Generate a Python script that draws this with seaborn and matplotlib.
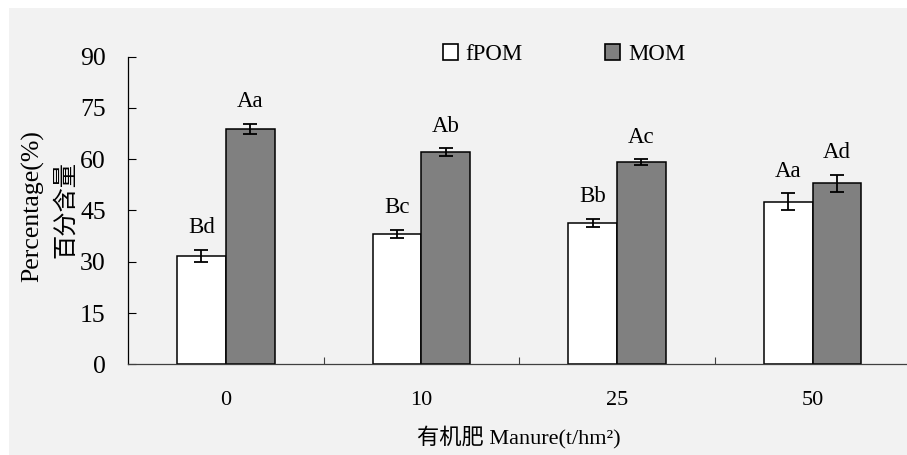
import matplotlib
matplotlib.use("Agg")
import matplotlib.pyplot as plt
from matplotlib.patches import Rectangle, Patch
from matplotlib.ticker import FixedLocator
import pandas as pd
import seaborn as sns

# Organic matter fractions under different manure application rates
manure_rates = ["0", "10", "25", "50"]
fractions = ["fPOM", "MOM"]
fpom_pct = [31.6, 38.2, 41.4, 47.5]
mom_pct = [68.8, 62.1, 59.1, 52.9]
fpom_err = [1.8, 1.1, 1.1, 2.5]
mom_err = [1.5, 1.1, 0.9, 2.6]
fpom_letters = ["Bd", "Bc", "Bb", "Aa"]
mom_letters = ["Aa", "Ab", "Ac", "Ad"]
y_ticks = [0, 15, 30, 45, 60, 75, 90]

sns.set_style("ticks")
plt.rcParams["font.family"] = ["Liberation Serif", "Noto Sans CJK SC"]
plt.rcParams["axes.unicode_minus"] = False
for key in ["text.color", "axes.labelcolor", "xtick.color", "ytick.color",
            "xtick.labelcolor", "ytick.labelcolor"]:
    plt.rcParams[key] = "black"

df = pd.DataFrame({
    "Manure": manure_rates * 2,
    "Fraction": [fractions[0]] * len(manure_rates) + [fractions[1]] * len(manure_rates),
    "Percentage": fpom_pct + mom_pct,
})
colors = {"fPOM": "#ffffff", "MOM": "#808080"}

W, H = 907, 455
fig = plt.figure(figsize=(W / 100, H / 100), dpi=100)
fig.patch.set_facecolor("white")
fig.patches.append(Rectangle((9 / W, 0), 1, 1 - 8 / H, transform=fig.transFigure,
                             facecolor="#f2f2f2", edgecolor="none", zorder=-10))

ax = fig.add_axes([128 / W, 1 - 364.3 / H, 782.4 / W, (364.3 - 56.7) / H])
ax.patch.set_visible(False)
ax.set_zorder(1)

sns.barplot(data=df, x="Manure", y="Percentage", hue="Fraction",
            order=manure_rates, hue_order=fractions, palette=colors,
            saturation=1, width=0.5, gap=0, edgecolor="black", linewidth=1.1,
            errorbar=None, legend=False, ax=ax)

# error bars and significance letters on top of each bar
for container, vals, errs, letters in zip(ax.containers,
                                          [fpom_pct, mom_pct],
                                          [fpom_err, mom_err],
                                          [fpom_letters, mom_letters]):
    xs = [p.get_x() + p.get_width() / 2 for p in container.patches]
    ax.errorbar(xs, vals, yerr=errs, fmt="none", ecolor="black",
                elinewidth=1.3, capsize=5, capthick=1.3, zorder=5)
    for x, v, e, lab in zip(xs, vals, errs, letters):
        ax.annotate(lab, xy=(x, v + e), xytext=(0, 12), textcoords="offset points",
                    ha="center", va="baseline", fontsize=16.5)

ax.set_xlim(-0.5, 3.5)
ax.set_ylim(0, 90)
ax.set_yticks(y_ticks)
ax.set_xlabel("")
ax.set_ylabel("")
ax.xaxis.set_minor_locator(FixedLocator([0.5, 1.5, 2.5]))
ax.tick_params(axis="y", direction="in", length=6, width=0.8, pad=16,
               labelsize=18.5, color="black")
ax.tick_params(axis="x", which="major", length=0, pad=19, labelsize=16)
ax.tick_params(axis="x", which="minor", direction="in", length=5, width=0.8,
               color="#404040")
sns.despine(ax=ax)
ax.spines["left"].set_color("black")
ax.spines["left"].set_linewidth(0.9)
ax.spines["bottom"].set_color("#404040")
ax.spines["bottom"].set_linewidth(0.9)

handles = [Patch(facecolor=colors[f], edgecolor="black", linewidth=1.2) for f in fractions]
ax.legend(handles, fractions, ncol=2, frameon=False, loc="center left",
          bbox_to_anchor=(442.7 / W, 1 - 54.5 / H), bbox_transform=fig.transFigure,
          borderpad=0, borderaxespad=0, handlelength=0.65, handleheight=0.65,
          handletextpad=0.35, columnspacing=3.6, fontsize=16.5)

fig.text(33 / W, 1 - 206.5 / H, "Percentage(%)", rotation=90,
         ha="center", va="center", fontsize=18.5)
fig.text(66 / W, 1 - 209 / H, "百分含量", rotation=90,
         ha="center", va="center", fontsize=17.5)
fig.text(519 / W, 1 - 443 / H, "有机肥 Manure(t/hm²)",
         ha="center", va="baseline", fontsize=16)

fig.savefig("out.png", dpi=100)
